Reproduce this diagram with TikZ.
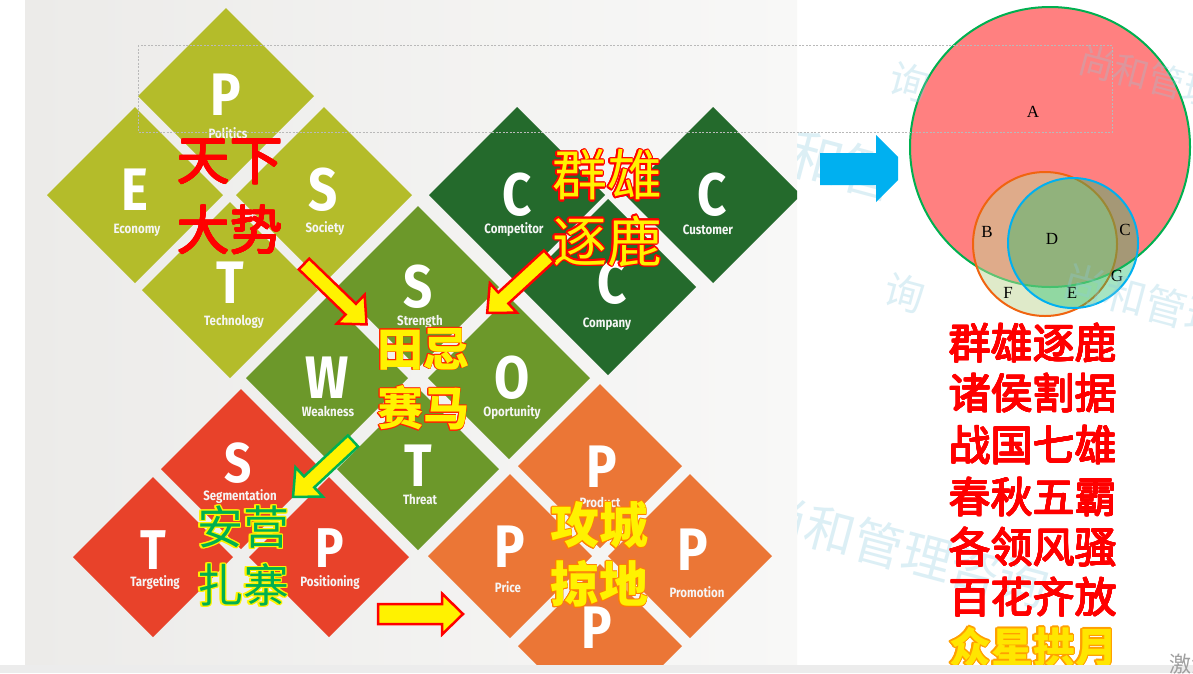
\documentclass[tikz,border=0pt]{standalone}
\usepackage{fontspec}
\usepackage{graphicx}
\setmainfont{Liberation Serif}
\newfontfamily\cjk{Noto Sans CJK SC}
\newfontfamily\fira{Fira Sans}[FakeStretch=0.85]
\usetikzlibrary{shapes.geometric}
\definecolor{pestc}{RGB}{180,188,42}
\definecolor{cccol}{RGB}{36,106,44}
\definecolor{swotc}{RGB}{108,152,42}
\definecolor{stpc}{RGB}{232,66,42}
\definecolor{fourpc}{RGB}{235,118,54}
\definecolor{photoL}{RGB}{236,235,233}
\definecolor{photoR}{RGB}{248,248,247}
\definecolor{venA}{RGB}{255,128,128}
\definecolor{venAline}{RGB}{0,176,80}
\definecolor{venO}{RGB}{193,215,149}
\definecolor{venOline}{RGB}{240,100,16}
\definecolor{venB}{RGB}{30,190,105}
\definecolor{venBline}{RGB}{0,176,240}
\definecolor{wmc}{RGB}{140,203,224}
\definecolor{arrowblue}{RGB}{0,176,240}
\definecolor{cjkgreen}{RGB}{0,176,80}
\definecolor{goldfill}{RGB}{255,230,0}
\definecolor{goldline}{RGB}{255,160,0}
\definecolor{bandc}{RGB}{236,236,236}
\newcommand\otext[7]{%
  \foreach \oa in {0,30,...,330}{\node[inner sep=0pt, font=#3, text=#5, shift={(\oa:#6)}] at #2 {#7};}
  \node[inner sep=0pt, font=#3, text=#4] (#1) at #2 {#7};}
\newcommand\blockarrow[9]{%
  \begin{scope}[shift={(#1,#2)}, rotate=#3]
    \path[fill=#8, draw=#9, line width=2.5pt, line join=miter]
      (0,-#5/2) -- ({#4-#7},-#5/2) -- ({#4-#7},-#6/2) -- (#4,0) -- ({#4-#7},#6/2) -- ({#4-#7},#5/2) -- (0,#5/2) -- cycle;
  \end{scope}}
\begin{document}
\begin{tikzpicture}[x=1pt,y=-1pt,
  dia/.style={shape=diamond, aspect=1, inner sep=0pt, outer sep=0pt, draw=none},
  bigl/.style={font=\fira\bfseries\fontsize{60}{60}\selectfont, text=white, inner sep=0pt},
  midl/.style={font=\fira\bfseries\fontsize{56}{56}\selectfont, text=white, inner sep=0pt},
  smalll/.style={font=\fira\bfseries\fontsize{13.5}{13.5}\selectfont, text=white!92!gray, inner sep=0pt},
  vlab/.style={font=\fontsize{17}{17}\selectfont, inner sep=0pt},
  wm/.style={font=\cjk\fontsize{#1}{#1}\selectfont, text=wmc, opacity=0.3, rotate=-15, inner sep=0pt}]
\useasboundingbox (0,0) rectangle (1193,673);
\fill[white] (0,0) rectangle (1193,673);
% photo background
\shade[left color=photoL, right color=photoR] (25,0) rectangle (797,665);
\begin{scope}
\clip (25,0) rectangle (797,665);
% PEST
\node[dia, fill=pestc, minimum size=176pt] (dPP) at (226,96) {};
\node[dia, fill=pestc, minimum size=176pt] (dPE) at (135,195) {};
\node[dia, fill=pestc, minimum size=176pt] (dPS) at (324,195) {};
\node[dia, fill=pestc, minimum size=176pt] (dPT) at (230,290) {};
% 3C
\node[dia, fill=cccol, minimum size=176pt] (dC1) at (517,195) {};
\node[dia, fill=cccol, minimum size=176pt] (dC2) at (713,195) {};
\node[dia, fill=cccol, minimum size=176pt] (dC3) at (608,287) {};
% SWOT
\node[dia, fill=swotc, minimum size=162pt] (dSS) at (418,287) {};
\node[dia, fill=swotc, minimum size=162pt] (dSW) at (327,378) {};
\node[dia, fill=swotc, minimum size=162pt] (dSO) at (509,378) {};
\node[dia, fill=swotc, minimum size=162pt] (dST) at (418,469) {};
% STP
\node[dia, fill=stpc, minimum size=160pt] (dTS) at (241,469) {};
\node[dia, fill=stpc, minimum size=160pt] (dTT) at (153,557) {};
\node[dia, fill=stpc, minimum size=160pt] (dTP) at (329,557) {};
% 4P
\node[dia, fill=fourpc, minimum size=164pt] (dF1) at (600,466) {};
\node[dia, fill=fourpc, minimum size=164pt] (dF2) at (510,556) {};
\node[dia, fill=fourpc, minimum size=164pt] (dF3) at (690,556) {};
\node[dia, fill=fourpc, minimum size=164pt] (dF4) at (600,646) {};
% letters
\node[bigl] (lPP) at (226,95) {P};
\node[bigl] (lPE) at (135,190) {E};
\node[bigl] (lPS) at (323,190) {S};
\node[bigl] (lPT) at (230,283) {T};
\node[smalll] (tPP) at (228,133) {Politics};
\node[smalll] (tPE) at (137,230) {Economy};
\node[smalll] (tPS) at (325,229) {Society};
\node[smalll] (tPT) at (234,322) {Technology};
\node[bigl] (lC1) at (517,195) {C};
\node[bigl] (lC2) at (712,195) {C};
\node[bigl] (lC3) at (612,283) {C};
\node[smalll] (tC1) at (514,230) {Competitor};
\node[smalll] (tC2) at (708,230) {Customer};
\node[smalll] (tC3) at (607,324) {Company};
\node[bigl] (lSS) at (418,287) {S};
\node[bigl] (lSW) at (327,378) {W};
\node[bigl] (lSO) at (512,378) {O};
\node[bigl] (lST) at (418,466) {T};
\node[smalll] (tSS) at (420,322) {Strength};
\node[smalll] (tSW) at (328,411) {Weakness};
\node[smalll] (tSO) at (512,413) {Oportunity};
\node[smalll] (tST) at (420,499) {Threat};
\node[midl] (lTS) at (238,463) {S};
\node[midl] (lTT) at (153,550) {T};
\node[midl] (lTP) at (330,548) {P};
\node[smalll] (tTS) at (240,497) {Segmentation};
\node[smalll] (tTT) at (155,583) {Targeting};
\node[smalll] (tTP) at (330,583) {Positioning};
\node[bigl] (lF1) at (602,467) {P};
\node[bigl] (lF2) at (510,547) {P};
\node[bigl] (lF3) at (693,550) {P};
\node[bigl] (lF4) at (597,628) {P};
\node[smalll] (tF1) at (600,502) {Product};
\node[smalll] (tF2) at (508,587) {Price};
\node[smalll] (tF3) at (697,592) {Promotion};
\end{scope}
% Venn
\node[circle, minimum size=280pt, inner sep=0pt, fill=venA, draw=venAline, line width=2pt] (vA) at (1050,147) {};
\node[circle, minimum size=144pt, inner sep=0pt, fill=venO, fill opacity=0.5, draw=venOline, draw opacity=1, line width=2pt] (vO) at (1045,244) {};
\node[circle, minimum size=130pt, inner sep=0pt, fill=venB, fill opacity=0.4, draw=venBline, draw opacity=1, line width=2pt] (vB) at (1073,243) {};
\node[vlab] (labA) at (1033,112) {A};
\node[vlab] (labB) at (987,232) {B};
\node[vlab] (labC) at (1125,230) {C};
\node[vlab] (labD) at (1052,239) {D};
\node[vlab] (labE) at (1072,293) {E};
\node[vlab] (labF) at (1008,293) {F};
\node[vlab] (labG) at (1117,276) {G};
% watermarks
\begin{scope}
\clip (797,0) rectangle (1193,665);
\node[wm=50] (wm1) at (903,550) {尚和管理咨询};
\node[wm=36] (wm2) at (1184,86) {尚和管理咨询};
\node[wm=40] (wm3) at (910,82) {询};
\node[wm=55] (wm4) at (843,165) {和管};
\node[wm=42] (wm5) at (1146,301) {尚和管理};
\node[wm=40] (wm6) at (905,293) {询};
\end{scope}
% blue arrow
\path[fill=arrowblue] (820,153) -- (876,153) -- (876,135) -- (898,157) -- (898,180) -- (876,202) -- (876,185) -- (820,185) -- cycle;
% dashed placeholder box
\draw[gray!55, dash pattern=on 2pt off 1.5pt, line width=0.6pt] (138,45) rectangle (1112,132);
% overlay texts
\otext{tx1a}{(230,162)}{\cjk\fontsize{53}{53}\selectfont}{red}{red}{0.7pt}{天下}
\otext{tx1b}{(230,230)}{\cjk\fontsize{53}{53}\selectfont}{red}{red}{0.7pt}{大势}
\otext{tx2a}{(607,175)}{\cjk\fontsize{55}{55}\selectfont}{yellow}{red}{1.5pt}{群雄}
\otext{tx2b}{(607,241)}{\cjk\fontsize{55}{55}\selectfont}{yellow}{red}{1.5pt}{逐鹿}
\otext{tx3a}{(423,349)}{\cjk\bfseries\fontsize{46}{46}\selectfont}{yellow}{red!70!orange}{0.8pt}{田忌}
\otext{tx3b}{(423,408)}{\cjk\bfseries\fontsize{46}{46}\selectfont}{yellow}{red!70!orange}{0.8pt}{赛马}
\otext{tx4a}{(243,527)}{\cjk\fontsize{46}{46}\selectfont}{cjkgreen}{yellow}{1.3pt}{安营}
\otext{tx4b}{(243,585)}{\cjk\fontsize{46}{46}\selectfont}{cjkgreen}{yellow}{1.3pt}{扎寨}
\otext{tx5a}{(599,525)}{\cjk\bfseries\fontsize{49}{49}\selectfont}{yellow}{orange}{0.8pt}{攻城}
\otext{tx5b}{(599,584)}{\cjk\bfseries\fontsize{49}{49}\selectfont}{yellow}{orange}{0.8pt}{掠地}
% block arrows
\blockarrow{304}{264}{-44}{87}{15}{40}{22}{yellow}{red}
\blockarrow{549}{256}{-137.4}{84}{15}{40}{22}{yellow}{red}
\blockarrow{353}{441}{-137}{82}{15}{40}{22}{yellow}{cjkgreen}
\blockarrow{378}{614}{0}{85}{20}{41}{21}{yellow}{red}
% right column
\otext{r1}{(1033,343)}{\cjk\fontsize{42}{42}\selectfont}{red}{red}{0.6pt}{群雄逐鹿}
\otext{r2}{(1033,393)}{\cjk\fontsize{42}{42}\selectfont}{red}{red}{0.6pt}{诸侯割据}
\otext{r3}{(1033,445)}{\cjk\fontsize{42}{42}\selectfont}{red}{red}{0.6pt}{战国七雄}
\otext{r4}{(1033,497)}{\cjk\fontsize{42}{42}\selectfont}{red}{red}{0.6pt}{春秋五霸}
\otext{r5}{(1033,547)}{\cjk\fontsize{42}{42}\selectfont}{red}{red}{0.6pt}{各领风骚}
\otext{r6}{(1033,597)}{\cjk\fontsize{42}{42}\selectfont}{red}{red}{0.6pt}{百花齐放}
\otext{r7}{(1033,647)}{\cjk\bfseries\fontsize{42}{42}\selectfont}{goldfill}{goldline}{1.3pt}{众星拱月}
% bottom band
\fill[bandc] (0,665) rectangle (1193,673);
\node[inner sep=0pt, anchor=west, font=\cjk\fontsize{22}{22}\selectfont, text=gray!75] (act) at (1169,664) {激活 Windows};
\end{tikzpicture}
\end{document}
